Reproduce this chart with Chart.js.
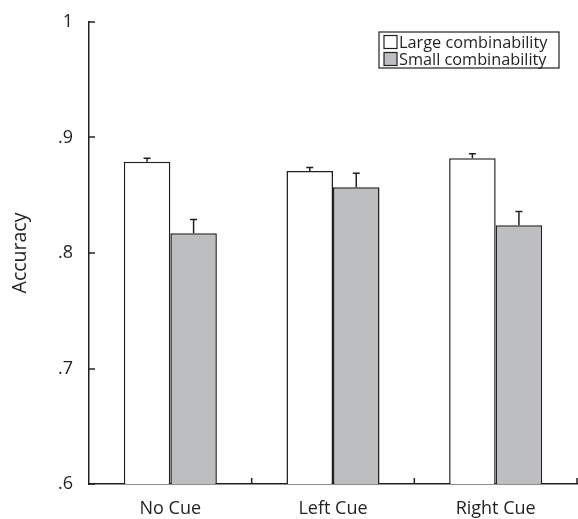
<!DOCTYPE html>
<html><head><meta charset="utf-8">
<script src="https://cdn.jsdelivr.net/npm/chart.js@4/dist/chart.umd.min.js"></script>
<style>html,body{margin:0;padding:0;background:#fff}#w{width:578px;height:519px}</style>
</head><body><div id="w"><canvas id="c"></canvas></div>
<script>
const categories = ["No Cue", "Left Cue", "Right Cue"];
const seriesNames = ["Large combinability", "Small combinability"];
const largeValues = [0.879, 0.871, 0.882];
const largeErrors = [0.003, 0.003, 0.004];
const smallValues = [0.817, 0.857, 0.824];
const smallErrors = [0.012, 0.012, 0.012];
const yTicks = [0.6, 0.7, 0.8, 0.9, 1.0];
const yTickLabels = [".6", ".7", ".8", ".9", "1"];

const INK = "#231f20";
const FONT = "'Open Sans', sans-serif";

const errorPlugin = {
  id: "errbars",
  afterDatasetsDraw(chart) {
    const ctx = chart.ctx, y = chart.scales.y;
    ctx.save();
    ctx.strokeStyle = INK; ctx.lineWidth = 1.5;
    chart.data.datasets.forEach((ds, di) => {
      const meta = chart.getDatasetMeta(di);
      meta.data.forEach((bar, i) => {
        const top = y.getPixelForValue(ds.data[i] + ds.errors[i]);
        ctx.beginPath();
        ctx.moveTo(bar.x, bar.y); ctx.lineTo(bar.x, top);
        ctx.moveTo(bar.x - 3.5, top); ctx.lineTo(bar.x + 3.5, top);
        ctx.stroke();
      });
    });
    ctx.restore();
  }
};

const axesTicksPlugin = {
  id: "inticks",
  afterDraw(chart) {
    const ctx = chart.ctx, x = chart.scales.x, y = chart.scales.y, a = chart.chartArea;
    ctx.save();
    ctx.strokeStyle = INK; ctx.lineWidth = 1.5;
    ctx.beginPath();
    yTicks.forEach(v => {
      const py = Math.round(y.getPixelForValue(v));
      ctx.moveTo(a.left, py); ctx.lineTo(a.left + 6, py);
    });
    const n = categories.length;
    const step = x.getPixelForValue(1) - x.getPixelForValue(0);
    for (let i = 0; i < n; i++) {
      const px = x.getPixelForValue(i) + step / 2;
      ctx.moveTo(px, a.bottom); ctx.lineTo(px, a.bottom - 6);
    }
    ctx.stroke();
    // legend
    const lx = 379, ly = 32, lw = 180, lh = 36;
    ctx.lineWidth = 1.2;
    ctx.strokeRect(lx, ly, lw, lh);
    ctx.font = "16.3px " + FONT;
    ctx.textBaseline = "middle";
    chart.data.datasets.forEach((ds, i) => {
      const cy = ly + 10 + i * 17;
      ctx.fillStyle = ds.backgroundColor;
      ctx.fillRect(lx + 5, cy - 6.5, 13, 13);
      ctx.strokeRect(lx + 5, cy - 6.5, 13, 13);
      ctx.fillStyle = INK;
      ctx.fillText(ds.label, lx + 20, cy + 1);
    });
    ctx.restore();
  }
};

new Chart(document.getElementById("c"), {
  type: "bar",
  data: {
    labels: categories,
    datasets: [
      { label: seriesNames[0], data: largeValues, errors: largeErrors, backgroundColor: "#ffffff", borderColor: INK, borderWidth: 1.5, borderSkipped: "bottom" },
      { label: seriesNames[1], data: smallValues, errors: smallErrors, backgroundColor: "#bcbec0", borderColor: INK, borderWidth: 1.5, borderSkipped: "bottom" }
    ]
  },
  plugins: [errorPlugin, axesTicksPlugin],
  options: {
    responsive: true, maintainAspectRatio: false, animation: false,
    layout: { padding: { top: 22, right: 1, left: 0, bottom: 0 } },
    plugins: { legend: { display: false }, tooltip: { enabled: false } },
    datasets: { bar: { categoryPercentage: 0.572, barPercentage: 1.0 } },
    scales: {
      x: {
        grid: { display: false },
        border: { display: true, color: INK, width: 1.5 },
        ticks: { color: INK, font: { size: 18, family: FONT }, padding: 6 },
        afterFit(s) { s.height = 35; }
      },
      y: {
        min: 0.6, max: 1.0,
        grid: { display: false },
        border: { display: true, color: INK, width: 1.5 },
        afterBuildTicks(s) { s.ticks = yTicks.map(v => ({ value: v })); },
        ticks: {
          color: INK, font: { size: 18, family: FONT }, padding: 8,
          callback(v) { const i = yTicks.findIndex(t => Math.abs(t - v) < 1e-9); return i >= 0 ? yTickLabels[i] : ""; }
        },
        title: { display: true, text: "Accuracy", color: INK, font: { size: 19.5, family: FONT }, padding: { top: 9, bottom: 0 } },
        afterFit(s) { s.width = 89; }
      }
    }
  }
});
</script></body></html>
